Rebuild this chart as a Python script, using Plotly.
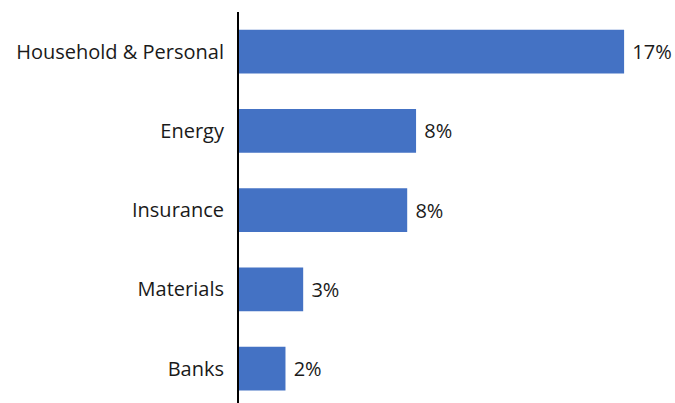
import plotly.graph_objects as go

categories = ["Banks", "Materials", "Insurance", "Energy", "Household & Personal"]
values = [2.1, 2.9, 7.6, 8.0, 17.4]

W, H = 675, 403

fig = go.Figure(go.Bar(
    x=values,
    y=categories,
    orientation="h",
    marker=dict(color="#4472C4", line=dict(width=0)),
    text=[f" {v:.0f}%" for v in values],
    textposition="outside",
    textfont=dict(size=20, color="#1a1a1a", family="Open Sans"),
    cliponaxis=False,
    width=0.55,
    hoverinfo="skip",
))

fig.update_layout(
    width=W, height=H,
    margin=dict(l=239, r=0, t=12, b=0),
    paper_bgcolor="white", plot_bgcolor="white",
    showlegend=False,
    font=dict(family="Open Sans", size=20, color="#1a1a1a"),
    xaxis=dict(range=[0, 19.7], visible=False, showgrid=False, zeroline=False),
    yaxis=dict(
        range=[-0.434, 4.5],
        showline=True, linecolor="black", linewidth=2,
        showgrid=False, zeroline=False,
        ticks="", ticklabelstandoff=9,
        tickfont=dict(size=20, family="Open Sans", color="#1a1a1a"),
    ),
)

fig.write_html(
    "out.html",
    config={"displayModeBar": False},
    post_script="document.body.style.margin='0';document.body.style.overflow='hidden';",
)
